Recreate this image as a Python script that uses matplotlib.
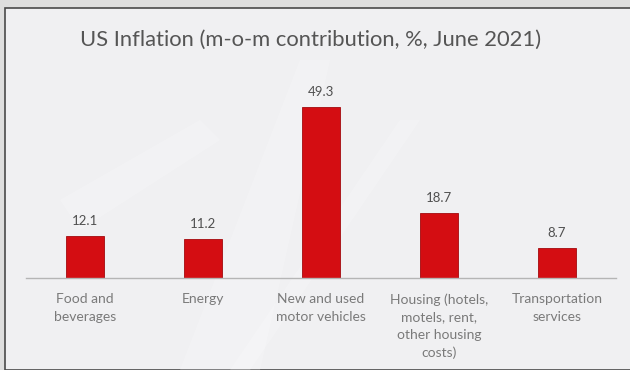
import matplotlib.pyplot as plt
from matplotlib.patches import Rectangle, Polygon

categories = ['Food and\nbeverages', 'Energy', 'New and used\nmotor vehicles',
              'Housing (hotels,\nmotels, rent,\nother housing\ncosts)',
              'Transportation\nservices']
values = [12.1, 11.2, 49.3, 18.7, 8.7]

W, H = 630, 370
fig = plt.figure(figsize=(W / 100, H / 100), dpi=100)
fig.patch.set_facecolor('#dedede')

# slide panel with a dark edge on the left and top
panel = Rectangle((5 / W, 0), 1, 1 - 8 / H, transform=fig.transFigure,
                  facecolor='#f0f0f2', edgecolor='#4a4a4a', lw=1.2, zorder=-2)
fig.patches.append(panel)

# faint light streaks in the background
for pts in [[(180, 370), (260, 370), (330, 60), (300, 60)],
            [(230, 370), (250, 370), (420, 120), (400, 120)],
            [(60, 200), (200, 120), (220, 140), (80, 230)]]:
    fig.patches.append(Polygon([(x / W, 1 - y / H) for x, y in pts],
                               transform=fig.transFigure, facecolor='white',
                               edgecolor='none', alpha=0.2, zorder=-1))

ax = fig.add_axes([26 / W, 1 - 278 / H, 590 / W, 218 / H])
ax.set_zorder(2)
ax.patch.set_alpha(0)

x = range(len(values))
bars = ax.bar(x, values, width=0.33, color='#d40d12', edgecolor='#a30a0e', lw=0.6)
for xi, v in zip(x, values):
    ax.text(xi, v + 2.6, f'{v:.1f}', ha='center', va='bottom',
            fontsize=9.5, fontfamily='Lato', color='#505050')

ax.set_xlim(-0.5, len(values) - 0.5)
ax.set_ylim(0, 63)
ax.set_yticks([])
ax.set_xticks(list(x))
ax.set_xticklabels(categories, fontsize=10, fontfamily='Lato', color='#7a7a7a',
                   linespacing=1.55)
ax.tick_params(axis='x', length=0, pad=11)
for s in ['left', 'right', 'top']:
    ax.spines[s].set_visible(False)
ax.spines['bottom'].set_color('#b5b5b5')
ax.spines['bottom'].set_linewidth(1.0)

fig.text(311 / W, 1 - 40 / H, 'US Inflation (m-o-m contribution, %, June 2021)',
         ha='center', va='center', fontsize=15.8, fontfamily='Lato', color='#555555')

fig.savefig('out.png', dpi=100, facecolor=fig.get_facecolor())
